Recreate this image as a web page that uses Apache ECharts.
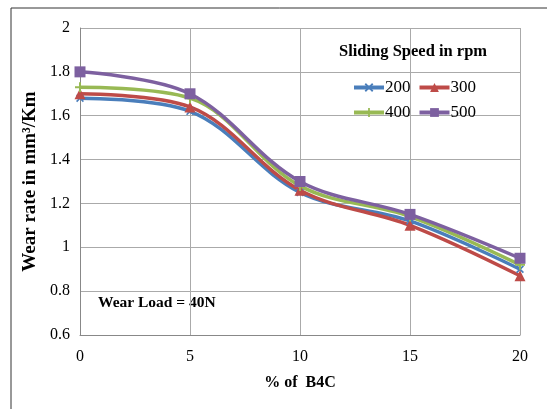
<!DOCTYPE html>
<html><head><meta charset="utf-8">
<script src="https://cdn.jsdelivr.net/npm/echarts@6/dist/echarts.min.js"></script>
<style>html,body{margin:0;padding:0;background:#fff}#c{width:547px;height:409px}</style>
</head><body><div id="c"></div>
<script>
var xValues = [0, 5, 10, 15, 20];
var s200 = [1.68, 1.62, 1.25, 1.12, 0.90];
var s300 = [1.70, 1.64, 1.26, 1.10, 0.87];
var s400 = [1.73, 1.68, 1.28, 1.14, 0.92];
var s500 = [1.80, 1.70, 1.30, 1.15, 0.95];
var seriesNames = ['200', '300', '400', '500'];
var yTicks = [0.6, 0.8, 1, 1.2, 1.4, 1.6, 1.8, 2];

var chart = echarts.init(document.getElementById('c'));
var FONT = 'Liberation Serif';
function pairs(arr){ return xValues.map(function(x,i){return [x, arr[i]];}); }
var plusPath = 'path://M4,0 L6,0 L6,4 L10,4 L10,6 L6,6 L6,10 L4,10 L4,6 L0,6 L0,4 L4,4 Z';
var defs = [
  {name:seriesNames[0], data:s200, color:'#4a7ebb', symbol:'path://M0,1.5 L1.5,0 L5,3.5 L8.5,0 L10,1.5 L6.5,5 L10,8.5 L8.5,10 L5,6.5 L1.5,10 L0,8.5 L3.5,5 Z', size:8},
  {name:seriesNames[1], data:s300, color:'#be4b48', symbol:'triangle', size:11},
  {name:seriesNames[2], data:s400, color:'#98b954', symbol:plusPath, size:10},
  {name:seriesNames[3], data:s500, color:'#7d60a0', symbol:'rect', size:11}
];
var series = defs.map(function(d){
  return {
    name:d.name, type:'line', smooth:0.35, data:pairs(d.data),
    symbol:d.symbol, symbolSize:d.size,
    lineStyle:{color:d.color, width:3.5},
    itemStyle:{color:d.color, borderWidth:0},
    z: 2
  };
});
var legendCommon = {left:347, itemWidth:30, itemHeight:11, itemGap:7,
  lineStyle:{width:4},
  textStyle:{fontFamily:FONT, fontSize:17, color:'#000', padding:[0,0,0,-4]}};
chart.setOption({
  animation:false,
  backgroundColor:'#fff',
  textStyle:{fontFamily:FONT},
  graphic:[
    {type:'rect', shape:{x:11, y:8, width:600, height:500}, style:{fill:'none', stroke:'#333', lineWidth:1}, z:-10},
    {type:'text', left:98, top:295, style:{text:'Wear Load = 40N', font:'bold 15.5px "Liberation Serif"', fill:'#000'}},
    {type:'text', left:339, top:43, style:{text:'Sliding Speed in rpm', font:'bold 16.5px "Liberation Serif"', fill:'#000'}}
  ],
  legend:[
    Object.assign({data:[seriesNames[0], seriesNames[1]], top:74}, legendCommon),
    Object.assign({data:[seriesNames[2], seriesNames[3]], top:99}, legendCommon)
  ],
  grid:{left:80, right:27, top:28, bottom:74},
  xAxis:{
    type:'value', min:0, max:20, interval:5,
    name:'% of  B4C', nameLocation:'middle', nameGap:40,
    nameTextStyle:{fontFamily:FONT, fontSize:16, fontWeight:'bold', color:'#000'},
    axisLine:{show:true, lineStyle:{color:'#888', width:1}},
    axisTick:{show:false},
    axisLabel:{fontFamily:FONT, fontSize:16, color:'#000', margin:14},
    splitLine:{show:true, lineStyle:{color:'#aaa', width:1}}
  },
  yAxis:{
    type:'value', min:0.6, max:2, interval:0.2,
    name:'Wear rate in mm³/Km', nameLocation:'middle', nameGap:36,
    nameTextStyle:{fontFamily:FONT, fontSize:19, fontWeight:'bold', color:'#000'},
    axisLine:{show:true, lineStyle:{color:'#888', width:1}},
    axisTick:{show:false},
    axisLabel:{fontFamily:FONT, fontSize:16, color:'#000', margin:10,
      formatter:function(v){ return String(Math.round(v*10)/10); }},
    splitLine:{show:true, lineStyle:{color:'#aaa', width:1}}
  },
  series:series
});
</script></body></html>
